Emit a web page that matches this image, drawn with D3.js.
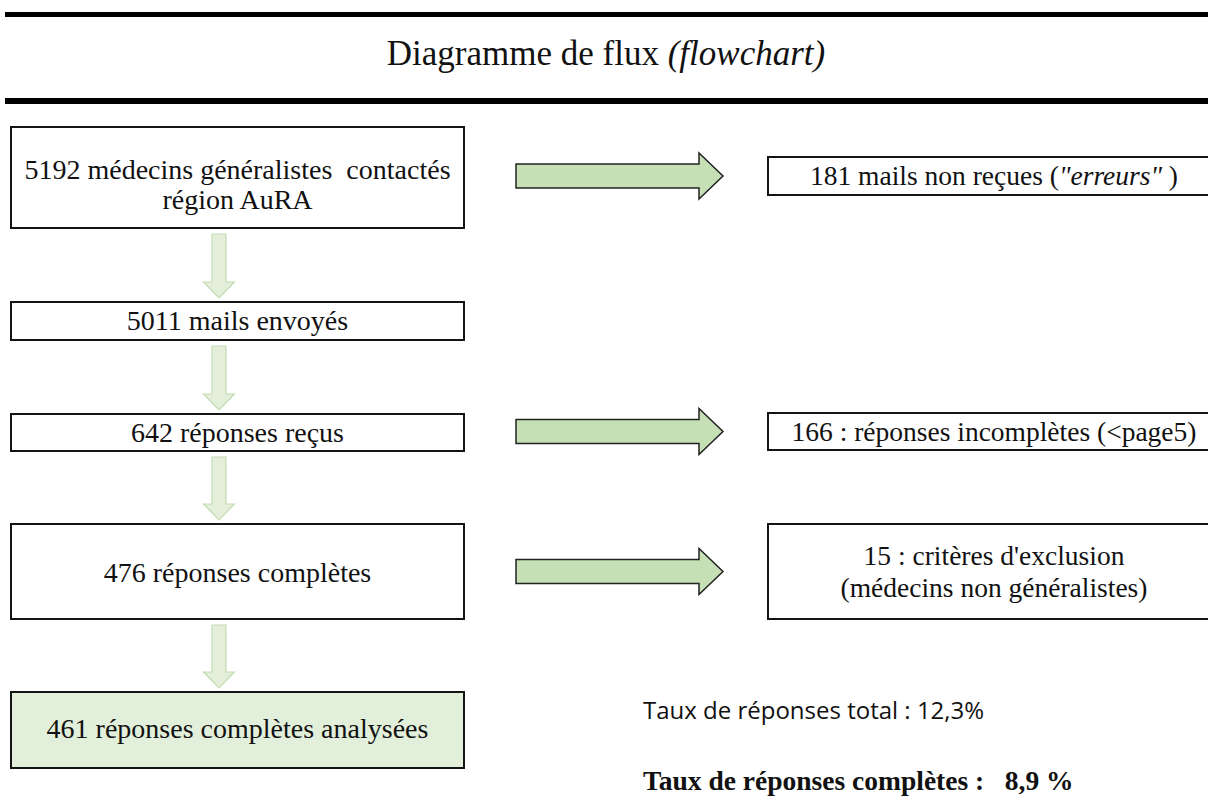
<!DOCTYPE html>
<html>
<head>
<meta charset="utf-8">
<script src="https://cdn.jsdelivr.net/npm/d3@7"></script>
<style>
  html, body { margin: 0; padding: 0; background: #fff; }
  svg { display: block; }
  text { white-space: pre; }
</style>
</head>
<body>
<div id="flow"></div>
<script>
// Flowchart content
const titleText = "Diagramme de flux "
const titleItalic = "(flowchart)"

// Main column: count + label, one entry per step
const mainCounts = [5192, 5011, 642, 476, 461]
const mainLines = [
  ["médecins généralistes  contactés", "région AuRA"],
  ["mails envoyés"],
  ["réponses reçus"],
  ["réponses complètes"],
  ["réponses complètes analysées"]
]

// Side boxes: which step they branch from, count and label segments
const sideSteps = [0, 2, 3]
const sideCounts = [181, 166, 15]
const sideLines = [
  [[["mails non reçues (", false], ["\"erreurs\"", true], [" )", false]]],
  [[[": réponses incomplètes (<page5)", false]]],
  [[[": critères d'exclusion", false]], [["(médecins non généralistes)", false]]]
]

// Rates at the bottom
const rateLabels = ["Taux de réponses total : ", "Taux de réponses complètes :   "]
const rateValues = ["12,3%", "8,9 %"]

const width = 1208
const height = 798
const serif = '"Liberation Serif", "Times New Roman", serif'

const svg = d3.select("#flow")
  .append("svg")
  .attr("width", width)
  .attr("height", height)

// Layout of the rows (top / bottom of each main box)
const rowTop = [127, 302, 414, 524, 692]
const rowBottom = [228, 340, 451, 619, 768]
const textShift = [7, 0, 0, 1, -1]
const lineGap = 30

const y = i => (rowTop[i] + rowBottom[i]) / 2
const mainX = d3.scaleLinear().domain([0, 1]).range([11, 464])
const sideX = d3.scaleLinear().domain([0, 1]).range([768, 1224])

// Header rules + title
svg.append("rect").attr("x", 5).attr("y", 12).attr("width", width).attr("height", 5).attr("fill", "#000")
svg.append("rect").attr("x", 5).attr("y", 98).attr("width", width).attr("height", 6).attr("fill", "#000")

let title = svg.append("text")
  .attr("x", 606)
  .attr("y", 65)
  .attr("text-anchor", "middle")
  .attr("font-family", serif)
  .attr("font-size", 35)
  .attr("fill", "#111")
title.append("tspan").text(titleText)
title.append("tspan").attr("font-style", "italic").text(titleItalic)

// Down arrows between main boxes (pale green)
function downArrow(x, y0, y1) {
  let sw = 7, hw = 15.5, hl = 16
  return `M${x - sw},${y0} L${x + sw},${y0} L${x + sw},${y1 - hl} L${x + hw},${y1 - hl} L${x},${y1} L${x - hw},${y1 - hl} L${x - sw},${y1 - hl} Z`
}
function rightArrow(x0, x1, cy) {
  let sh = 12, hh = 23, hl = 24
  return `M${x0},${cy - sh} L${x1 - hl},${cy - sh} L${x1 - hl},${cy - hh} L${x1},${cy} L${x1 - hl},${cy + hh} L${x1 - hl},${cy + sh} L${x0},${cy + sh} Z`
}

svg.append("g").selectAll("path")
  .data(d3.range(mainCounts.length - 1))
  .enter()
  .append("path")
  .attr("d", i => downArrow(219, rowBottom[i] + 6, rowTop[i + 1] - 4))
  .attr("fill", "#e3efda")
  .attr("stroke", "#c3dcb2")
  .attr("stroke-width", 1.2)

// Main boxes
let boxes = svg.append("g").selectAll("g")
  .data(mainCounts)
  .enter()
  .append("g")

boxes.append("rect")
  .attr("x", mainX(0))
  .attr("y", (d, i) => rowTop[i])
  .attr("width", mainX(1) - mainX(0))
  .attr("height", (d, i) => rowBottom[i] - rowTop[i])
  .attr("fill", (d, i) => i == mainCounts.length - 1 ? "#e2efda" : "#fff")
  .attr("stroke", "#141414")
  .attr("stroke-width", 2)

boxes.each(function (d, i) {
  let lines = mainLines[i]
  let n = lines.length
  let t = d3.select(this).append("text")
    .attr("text-anchor", "middle")
    .attr("font-family", serif)
    .attr("font-size", 28)
    .attr("fill", "#111")
  lines.forEach((line, k) => {
    t.append("tspan")
      .attr("x", (mainX(0) + mainX(1)) / 2)
      .attr("y", y(i) + 9 + textShift[i] + (k - (n - 1) / 2) * lineGap)
      .text(k == 0 ? `${d} ${line}` : line)
  })
})

// Side arrows + boxes
const sideTop = [157, 413, 524]
const sideBottom = [195, 450, 619]

svg.append("g").selectAll("path")
  .data(sideSteps)
  .enter()
  .append("path")
  .attr("d", (s, j) => rightArrow(516, 723, (sideTop[j] + sideBottom[j]) / 2))
  .attr("fill", "#c5e0b4")
  .attr("stroke", "#222")
  .attr("stroke-width", 1.5)

let side = svg.append("g").selectAll("g")
  .data(sideCounts)
  .enter()
  .append("g")

side.append("rect")
  .attr("x", sideX(0))
  .attr("y", (d, j) => sideTop[j])
  .attr("width", sideX(1) - sideX(0))
  .attr("height", (d, j) => sideBottom[j] - sideTop[j])
  .attr("fill", "#fff")
  .attr("stroke", "#141414")
  .attr("stroke-width", 2)

side.each(function (d, j) {
  let lines = sideLines[j]
  let n = lines.length
  let cy = (sideTop[j] + sideBottom[j]) / 2
  let cx = 994
  lines.forEach((segs, k) => {
    let t = d3.select(this).append("text")
      .attr("x", cx)
      .attr("y", cy + 9 + (k - (n - 1) / 2) * 32)
      .attr("text-anchor", "middle")
      .attr("font-family", serif)
      .attr("font-size", 27.5)
      .attr("fill", "#111")
    if (k == 0) t.append("tspan").text(d + " ")
    segs.forEach(s => {
      t.append("tspan").attr("font-style", s[1] ? "italic" : null).text(s[0])
    })
  })
})

// Response rates
svg.append("text")
  .attr("x", 643)
  .attr("y", 719)
  .attr("font-family", '"Open Sans", Lato, sans-serif')
  .attr("font-size", 24)
  .attr("fill", "#111")
  .text(rateLabels[0] + rateValues[0])

svg.append("text")
  .attr("x", 643)
  .attr("y", 790)
  .attr("font-family", serif)
  .attr("font-weight", "bold")
  .attr("font-size", 27.5)
  .attr("fill", "#111")
  .text(rateLabels[1] + rateValues[1])
</script>
</body>
</html>
